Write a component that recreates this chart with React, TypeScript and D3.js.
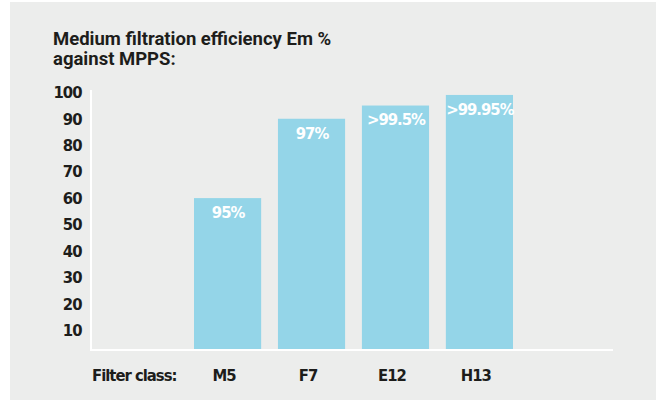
import { useMemo } from 'react'
import * as d3 from 'd3'

// filter classes and their efficiency (bar heights)
const classes = ['M5', 'F7', 'E12', 'H13']
const values = [60, 90, 95, 99]
const valueLabels = ['95%', '97%', '>99.5%', '>99.95%']
const yTicks = [10, 20, 30, 40, 50, 60, 70, 80, 90, 100]
const titleLines = ['Medium filtration efficiency Em %', 'against MPPS:']
const xAxisTitle = 'Filter class:'

const W = 656
const H = 400
const barColor = '#94d5e8'
const bgColor = '#ecedec'
const textColor = '#1d1d1b'
const condensed = '"DejaVu Sans Condensed", "DejaVu Sans", sans-serif'
const condSize = 16.5
const condSpacing = -1

function App() {
  const axisX = 91
  const axisY = 350

  const x = useMemo(() => d3.scaleBand()
    .domain(classes)
    .range([194, 513])
    .paddingInner(0.2)
    .paddingOuter(0), [])

  const y = useMemo(() => d3.scaleLinear().domain([0, 100]).range([356.8, 92.3]), [])

  const data = classes.map((c, i) => ({ c, v: values[i], label: valueLabels[i] }))

  const condText = {
    fontFamily: condensed,
    fontWeight: 700,
    fontSize: condSize,
    letterSpacing: condSpacing,
  }

  return (
    <svg width={W} height={H} style={{ position: 'absolute', left: 0, top: 0 }}>
      <rect x={10} y={2} width={W - 10} height={H - 2} fill={bgColor} />

      {titleLines.map((t, i) => (
        <text key={i} x={53} y={45 + i * 20} fontFamily="Roboto, sans-serif" fontWeight={700}
          fontSize={18.5} fill={textColor}>{t}</text>
      ))}

      {data.map(d => (
        <g key={d.c}>
          <rect x={x(d.c)} y={y(d.v)} width={x.bandwidth()} height={axisY - y(d.v)} fill={barColor} />
          <text x={x(d.c)! + x.bandwidth() / 2 + 0.5} y={y(d.v) + 14} dy="0.35em" textAnchor="middle"
            style={condText} fill="#ffffff">{d.label}</text>
          <text x={x(d.c)! + x.bandwidth() / 2 - 3.5} y={375} dy="0.35em" textAnchor="middle"
            style={condText} fill={textColor}>{d.c}</text>
        </g>
      ))}

      {yTicks.map(t => (
        <text key={t} x={81.5} y={y(t)} dy="0.35em" textAnchor="end"
          style={condText} fill={textColor}>{t}</text>
      ))}

      <text x={92} y={375} dy="0.35em" style={condText} fill={textColor}>{xAxisTitle}</text>

      <line x1={axisX} x2={axisX} y1={90} y2={axisY + 1} stroke="#ffffff" strokeWidth={2} />
      <line x1={axisX - 1} x2={613} y1={axisY} y2={axisY} stroke="#ffffff" strokeWidth={2} />
    </svg>
  )
}

export default App
